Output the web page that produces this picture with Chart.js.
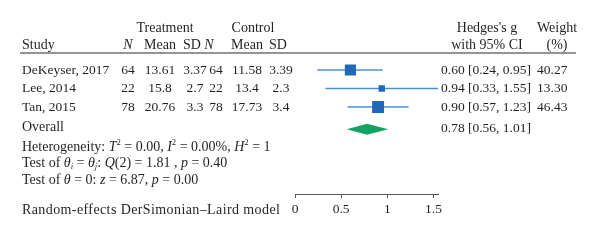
<!DOCTYPE html>
<html>
<head>
<meta charset="utf-8">
<script src="https://cdn.jsdelivr.net/npm/chart.js@4/dist/chart.umd.min.js"></script>
<style>
  html, body { margin: 0; padding: 0; background: #fff; }
  #wrap { width: 600px; height: 252px; position: relative; }
</style>
</head>
<body>
<div id="wrap"><canvas id="c"></canvas></div>
<script>
// ---- data ----
const studies   = ['DeKeyser, 2017', 'Lee, 2014', 'Tan, 2015'];
const treatN    = ['64', '22', '78'];
const treatMean = ['13.61', '15.8', '20.76'];
const treatSD   = ['3.37', '2.7', '3.3'];
const ctrlN     = ['64', '22', '78'];
const ctrlMean  = ['11.58', '13.4', '17.73'];
const ctrlSD    = ['3.39', '2.3', '3.4'];
const effect    = [0.60, 0.94, 0.90];
const ciLow     = [0.24, 0.33, 0.57];
const ciHigh    = [0.95, 1.55, 1.23];
const weights   = [40.27, 13.30, 46.43];
const overall   = [0.78, 0.56, 1.01]; // estimate, low, high
const axisTicks = [0, 0.5, 1, 1.5];
const ciText    = ['0.60 [0.24, 0.95]', '0.94 [0.33, 1.55]', '0.90 [0.57, 1.23]'];
const weightText= ['40.27', '13.30', '46.43'];
const overallText = '0.78 [0.56, 1.01]';

const FONT = '"Liberation Serif", "DejaVu Serif", serif';
const TXT = '#231f20';
const SQ = '#2068b8';
const LN = '#4a90d6';
const GREEN = '#13a463';

const rowY = [0, 1, 2];
const overallRow = 3.2;

const datasets = [{
  type: 'scatter',
  data: effect.map((v, i) => ({ x: v, y: rowY[i] })),
  pointStyle: 'rect',
  pointRadius: ctx => 1.24 * Math.sqrt(weights[ctx.dataIndex] || 0),
  pointHoverRadius: ctx => 1.24 * Math.sqrt(weights[ctx.dataIndex] || 0),
  backgroundColor: SQ,
  borderColor: SQ,
  borderWidth: 0,
  order: 0
}];
effect.forEach((v, i) => {
  datasets.push({
    type: 'line',
    data: [{ x: ciLow[i], y: rowY[i] }, { x: ciHigh[i], y: rowY[i] }],
    borderColor: LN,
    borderWidth: 1.4,
    pointRadius: 0,
    order: 1
  });
});

function richText(ctx, x, y, segs, size) {
  let cx = x;
  segs.forEach(s => {
    let sz = size, dy = 0;
    if (s.sup) { sz = size * 0.62; dy = -size * 0.33; }
    if (s.sub) { sz = size * 0.62; dy = size * 0.22; }
    ctx.font = (s.i ? 'italic ' : '') + sz + 'px ' + FONT;
    ctx.fillText(s.t, cx, y + dy);
    cx += ctx.measureText(s.t).width;
  });
}

const forestPlugin = {
  id: 'forest',
  afterDatasetsDraw(chart) {
    const ctx = chart.ctx;
    const xs = chart.scales.x, ys = chart.scales.y;
    // overall diamond
    const yc = ys.getPixelForValue(overallRow);
    ctx.save();
    ctx.fillStyle = GREEN;
    ctx.beginPath();
    ctx.moveTo(xs.getPixelForValue(overall[1]), yc);
    ctx.lineTo(xs.getPixelForValue(overall[0]), yc - 5.5);
    ctx.lineTo(xs.getPixelForValue(overall[2]), yc);
    ctx.lineTo(xs.getPixelForValue(overall[0]), yc + 5.5);
    ctx.closePath();
    ctx.fill();

    // table text
    const fs = 13.5, fh = 14;
    ctx.fillStyle = TXT;
    ctx.textBaseline = 'middle';
    const font = (it, sz) => (it ? 'italic ' : '') + (sz || fs) + 'px ' + FONT;

    // headers
    ctx.textAlign = 'center';
    ctx.font = font(false, fh);
    ctx.fillText('Treatment', 165, 28);
    ctx.fillText('Control', 253, 28);
    ctx.fillText("Hedges's g", 487, 28);
    ctx.fillText('Weight', 557, 28);
    ctx.fillText('with 95% CI', 487, 45);
    ctx.fillText('(%)', 557, 45);
    ctx.textAlign = 'left';
    ctx.fillText('Study', 22, 45);
    ctx.textAlign = 'center';
    const hdr = [['N', 128, true], ['Mean', 160, false], ['SD', 192, false],
                 ['N', 209, true], ['Mean', 247, false], ['SD', 278, false]];
    hdr.forEach(h => { ctx.font = font(h[2], fh); ctx.fillText(h[0], h[1], 45); });

    // rule under header
    ctx.fillStyle = '#2b2b2b';
    ctx.fillRect(20, 52.5, 556, 1);
    ctx.fillStyle = TXT;

    // rows
    ctx.font = font(false);
    const cols = [[treatN, 128], [treatMean, 160], [treatSD, 195],
                  [ctrlN, 216], [ctrlMean, 247], [ctrlSD, 281]];
    studies.forEach((s, i) => {
      const y = ys.getPixelForValue(rowY[i]);
      ctx.textAlign = 'left';
      ctx.fillText(s, 22, y);
      ctx.fillText(ciText[i], 441, y);
      ctx.fillText(weightText[i], 537, y);
      ctx.textAlign = 'center';
      cols.forEach(c => ctx.fillText(c[0][i], c[1], y));
    });
    ctx.textAlign = 'left';
    ctx.font = font(false, fh);
    ctx.fillText('Overall', 22, yc - 2);
    ctx.font = font(false);
    ctx.fillText(overallText, 441, yc - 1);

    richText(ctx, 22, 147, [
      { t: 'Heterogeneity: ' }, { t: 'T', i: 1 }, { t: '2', sup: 1 }, { t: ' = 0.00, ' },
      { t: 'I', i: 1 }, { t: '2', sup: 1 }, { t: ' = 0.00%, ' },
      { t: 'H', i: 1 }, { t: '2', sup: 1 }, { t: ' = 1' }], fh);
    richText(ctx, 22, 163.5, [
      { t: 'Test of ' }, { t: 'θ', i: 1 }, { t: 'i', i: 1, sub: 1 }, { t: ' = ' },
      { t: 'θ', i: 1 }, { t: 'j', i: 1, sub: 1 }, { t: ': ' }, { t: 'Q', i: 1 },
      { t: '(2) = 1.81 , ' }, { t: 'p', i: 1 }, { t: ' = 0.40' }], fh);
    richText(ctx, 22, 180, [
      { t: 'Test of ' }, { t: 'θ', i: 1 }, { t: ' = 0: ' }, { t: 'z', i: 1 },
      { t: ' = 6.87, ' }, { t: 'p', i: 1 }, { t: ' = 0.00' }], fh);
    ctx.font = font(false, fh);
    if ('letterSpacing' in ctx) ctx.letterSpacing = '0.4px';
    ctx.fillText('Random-effects DerSimonian\u2013Laird model', 22, 210);
    if ('letterSpacing' in ctx) ctx.letterSpacing = '0px';
    ctx.restore();
  }
};

new Chart(document.getElementById('c'), {
  data: { datasets },
  options: {
    responsive: true,
    maintainAspectRatio: false,
    animation: false,
    events: [],
    layout: { padding: { left: 295, right: 161.9, top: 51.5, bottom: 0 } },
    plugins: { legend: { display: false }, tooltip: { enabled: false } },
    scales: {
      x: {
        type: 'linear',
        min: 0,
        max: 1.55,
        afterBuildTicks: s => { s.ticks = axisTicks.map(v => ({ value: v })); },
        afterFit: s => { s.height = 58; },
        grid: { drawOnChartArea: false, drawTicks: true, tickLength: 4, color: '#555', lineWidth: 1 },
        border: { display: true, color: '#555', width: 1 },
        ticks: {
          color: TXT,
          padding: 3,
          maxRotation: 0,
          font: { family: FONT, size: 13.5 },
          callback: v => String(v)
        }
      },
      y: {
        type: 'linear',
        display: false,
        reverse: true,
        min: -1,
        max: 6.7
      }
    }
  },
  plugins: [forestPlugin]
});
</script>
</body>
</html>
